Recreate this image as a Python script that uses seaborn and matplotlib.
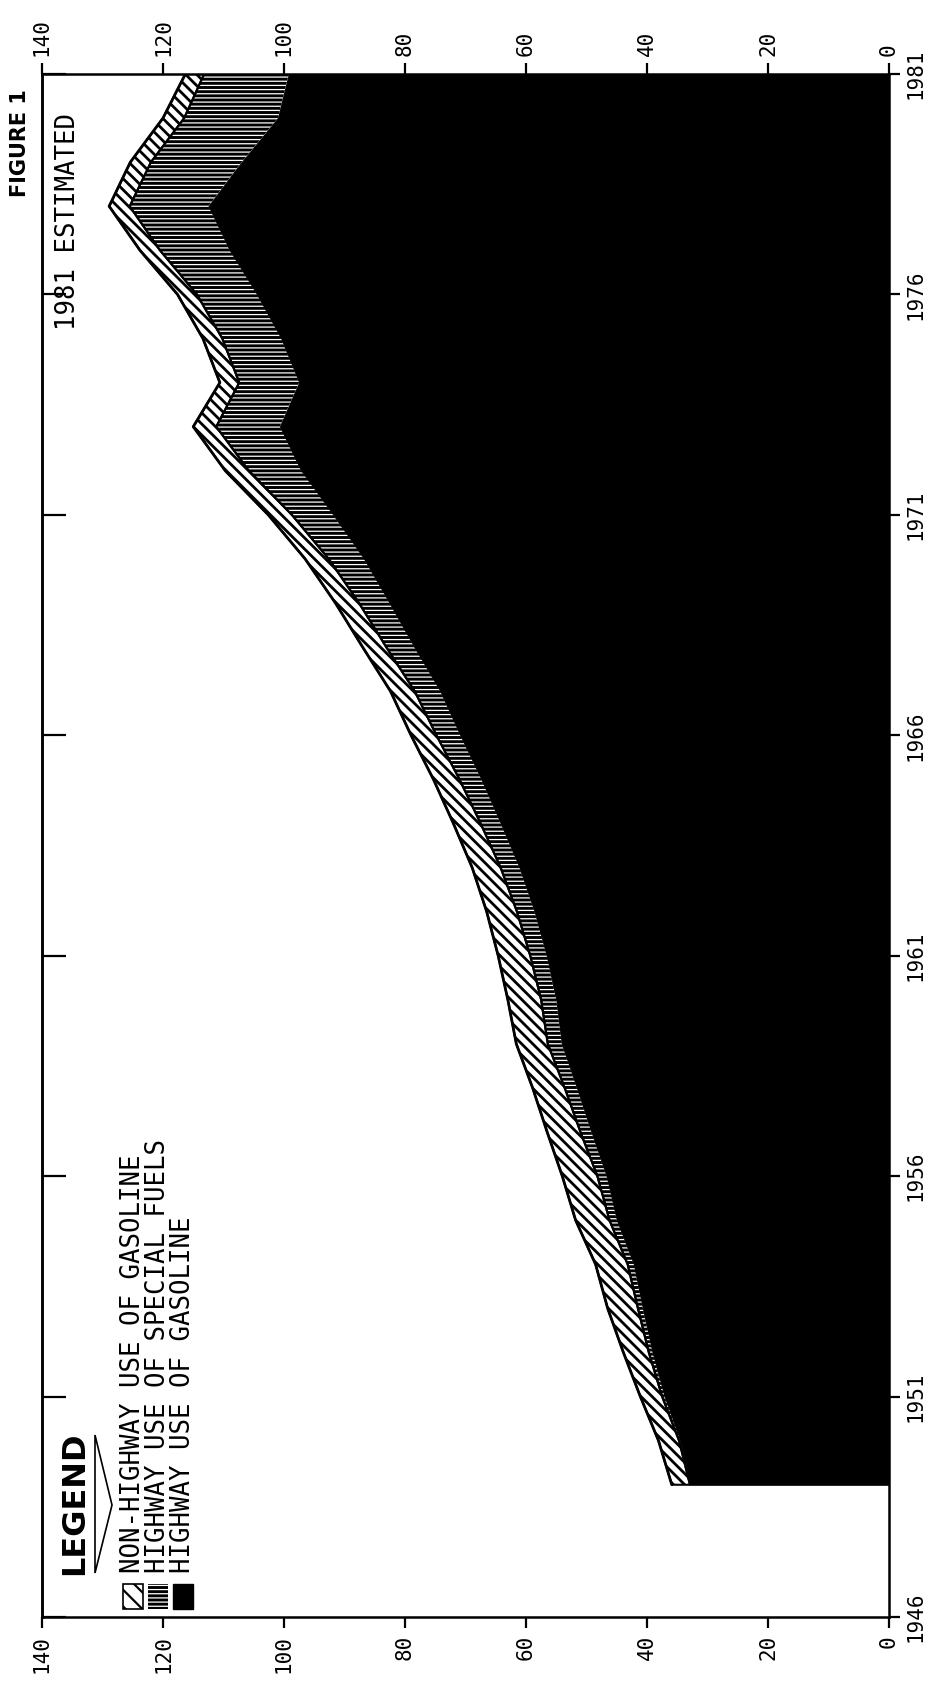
import matplotlib
matplotlib.use("Agg")
import numpy as np
import pandas as pd
import matplotlib.pyplot as plt
from matplotlib.patches import Rectangle, Polygon
import seaborn as sns

# ---------------- data (billion gallons) ----------------
years = list(range(1949, 1982))
highway_gasoline = [32.8, 34.5, 37.1, 39.1, 40.7, 42.2, 45.0, 46.7, 49.2, 51.6,
                    54.1, 55.0, 56.6, 58.6, 61.1, 64.2, 67.4, 70.9, 74.2, 78.5,
                    82.6, 86.8, 91.9, 97.2, 100.7, 97.5, 100.5, 104.5, 109.0, 112.5,
                    107.0, 101.0, 99.2]
special_fuels = [0.1, 0.2, 0.4, 0.6, 0.8, 1.0, 1.2, 1.5, 1.8, 2.0,
                 2.3, 2.5, 2.7, 2.9, 3.1, 3.3, 3.6, 3.9, 4.2, 4.6,
                 5.0, 5.8, 6.8, 8.6, 10.5, 9.9, 9.7, 9.9, 11.5, 13.0,
                 15.0, 15.5, 14.0]
non_highway = [3.0, 3.4, 3.6, 4.2, 5.0, 5.3, 5.6, 5.8, 5.5, 5.3,
               5.2, 5.5, 5.3, 5.0, 4.7, 4.5, 4.3, 4.2, 4.0, 3.9,
               3.9, 3.9, 3.9, 3.9, 3.8, 3.2, 3.2, 3.2, 3.3, 3.4,
               3.4, 3.5, 3.1]
value_ticks = [0, 20, 40, 60, 80, 100, 120, 140]
year_ticks = [1946, 1951, 1956, 1961, 1966, 1971, 1976, 1981]
legend_labels = ["NON-HIGHWAY USE OF GASOLINE",
                 "HIGHWAY USE OF SPECIAL FUELS",
                 "HIGHWAY USE OF GASOLINE"]

# ---------------- style ----------------
sns.set_theme(style="white")
plt.rcParams['font.family'] = ['DejaVu Sans Mono', 'DejaVu Sans']
plt.rcParams['hatch.linewidth'] = 2.0

W, H = 936, 1688
fig = plt.figure(figsize=(W / 100, H / 100), dpi=100)
fig.patch.set_facecolor('white')


def fx(x):
    return x / W


def fy(y):
    return 1 - y / H


ax = fig.add_axes([fx(42), fy(1617), (889 - 42) / W, (1617 - 74) / H])
ax.set_facecolor('white')

df = pd.DataFrame({'year': years, 'gas': highway_gasoline,
                   'special': special_fuels, 'nonhwy': non_highway})
df['lvl1'] = df['gas']
df['lvl2'] = df['gas'] + df['special']
df['lvl3'] = df['lvl2'] + df['nonhwy']

# highway gasoline: solid black
ax.fill_betweenx(df['year'], 0, df['lvl1'], facecolor='black',
                 edgecolor='black', linewidth=0.8)
# special fuels: black with white dashes
with plt.rc_context({'hatch.color': 'white', 'hatch.linewidth': 0.9}):
    c2 = ax.fill_betweenx(df['year'], df['lvl1'], df['lvl2'], facecolor='black',
                          edgecolor='white', linewidth=0, hatch='----')
    if hasattr(c2, 'set_hatch_linewidth'):
        c2.set_hatch_linewidth(0.9)
# non-highway gasoline: diagonal hatch
with plt.rc_context({'hatch.color': 'black', 'hatch.linewidth': 2.0}):
    c3 = ax.fill_betweenx(df['year'], df['lvl2'], df['lvl3'], facecolor='white',
                          edgecolor='black', linewidth=1.5, hatch='\\\\\\')
    if hasattr(c3, 'set_hatch_linewidth'):
        c3.set_hatch_linewidth(2.0)

sns.lineplot(data=df, x='lvl3', y='year', orient='y', color='black',
             linewidth=2.0, estimator=None, ax=ax)
sns.lineplot(data=df, x='lvl2', y='year', orient='y', color='black',
             linewidth=1.5, estimator=None, ax=ax)

ax.set_xlim(140, 0)
ax.set_ylim(1946, 1981)
ax.set_xlabel('')
ax.set_ylabel('')
ax.grid(False)

for s in ax.spines.values():
    s.set_visible(True)
    s.set_color('black')
    s.set_linewidth(1.8)

ax.set_xticks(value_ticks)
ax.set_xticklabels([str(v) for v in value_ticks])
ax.tick_params(axis='x', which='major', direction='out', length=8, width=1.6,
               color='black', labelcolor='black', top=True, bottom=True,
               labeltop=True, labelbottom=True, labelrotation=90,
               labelsize=15, pad=5)
ax.set_yticks(year_ticks)
ax.set_yticklabels([str(y) for y in year_ticks])
ax.tick_params(axis='y', which='major', direction='out', length=8, width=1.6,
               color='black', labelcolor='black', left=False, right=True,
               labelleft=False, labelright=True, labelsize=15, pad=4)
for t in ax.yaxis.get_major_ticks():
    t.label2.set_rotation(90)
    t.label2.set_va('center')
    t.label2.set_ha('left')

sec = ax.secondary_yaxis('left')
sec.set_yticks(year_ticks)
sec.tick_params(axis='y', direction='in', length=17, width=1.6, color='black',
                labelleft=False)
sec.spines['left'].set_linewidth(1.8)
sec.spines['left'].set_color('black')

# ---------------- annotations ----------------
fig.text(fx(20), fy(143), 'FIGURE 1', rotation=90, ha='center', va='center',
         fontsize=15, fontweight='bold', family='DejaVu Sans', color='black')
fig.text(fx(68), fy(330), '1981 ESTIMATED', rotation=90, ha='center',
         va='bottom', fontsize=18.5, color='black')

# legend
fig.text(fx(75), fy(1575), 'LEGEND', rotation=90, ha='center', va='bottom',
         fontsize=23, fontweight='heavy', family='DejaVu Sans', color='black')
fig.add_artist(Polygon([(fx(95), fy(1573)), (fx(112), fy(1505)), (fx(95), fy(1435))],
                       closed=True, fill=False, edgecolor='black', linewidth=1.2,
                       transform=fig.transFigure))

centers = [133, 158, 183]
for i, lab in enumerate(legend_labels):
    cx = centers[i]
    if i == 0:
        with plt.rc_context({'hatch.color': 'black', 'hatch.linewidth': 1.6}):
            r = Rectangle((fx(cx - 10), fy(1609)), 20 / W, 25 / H,
                          transform=fig.transFigure, facecolor='white',
                          edgecolor='black', linewidth=1.2, hatch='\\\\')
    elif i == 1:
        with plt.rc_context({'hatch.color': 'white', 'hatch.linewidth': 0.9}):
            r = Rectangle((fx(cx - 10), fy(1609)), 20 / W, 25 / H,
                          transform=fig.transFigure, facecolor='black',
                          edgecolor='white', linewidth=0, hatch='----')
    else:
        r = Rectangle((fx(cx - 10), fy(1609)), 20 / W, 25 / H,
                      transform=fig.transFigure, facecolor='black',
                      edgecolor='black', linewidth=1.0)
    fig.add_artist(r)
    fig.text(fx(cx), fy(1573), lab, rotation=90, ha='center', va='bottom',
             fontsize=18.5, color='black')

fig.savefig('out.png', dpi=100, facecolor='white')
